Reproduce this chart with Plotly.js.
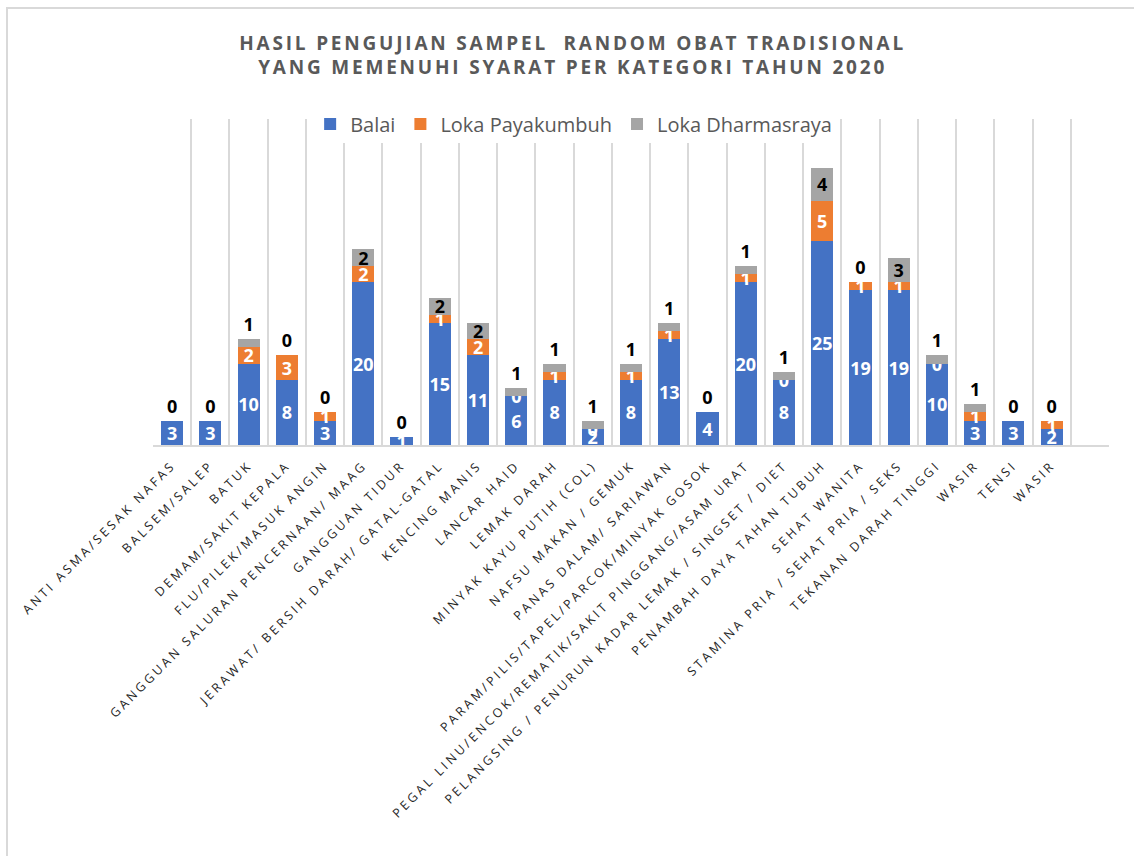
<!DOCTYPE html>
<html>
<head>
<meta charset="utf-8">
<script src="https://cdn.plot.ly/plotly-3.0.1.min.js"></script>
<style>
  html, body { margin: 0; padding: 0; background: #fff; }
  #wrap { position: relative; width: 1134px; height: 856px; overflow: hidden; }
  #chart { width: 1134px; height: 856px; }
  #frame { position: absolute; left: 6px; top: 7px; width: 1160px; height: 900px; z-index: 10;
           border: 2px solid #D9D9D9; box-sizing: border-box; pointer-events: none; }
  .gtitle { letter-spacing: 2.8px; }
  .xtick text { letter-spacing: 3px; }
</style>
</head>
<body>
<div id="wrap">
  <div id="chart"></div>
  <div id="frame"></div>
</div>
<script>
const chartTitle = "HASIL PENGUJIAN SAMPEL  RANDOM OBAT TRADISIONAL<br>YANG MEMENUHI SYARAT PER KATEGORI TAHUN 2020";

const categories = [
  "ANTI ASMA/SESAK NAFAS",
  "BALSEM/SALEP",
  "BATUK",
  "DEMAM/SAKIT KEPALA",
  "FLU/PILEK/MASUK ANGIN",
  "GANGGUAN SALURAN PENCERNAAN/ MAAG",
  "GANGGUAN TIDUR",
  "JERAWAT/ BERSIH DARAH/ GATAL-GATAL",
  "KENCING MANIS",
  "LANCAR HAID",
  "LEMAK DARAH",
  "MINYAK KAYU PUTIH (COL)",
  "NAFSU MAKAN / GEMUK",
  "PANAS DALAM/ SARIAWAN",
  "PARAM/PILIS/TAPEL/PARCOK/MINYAK GOSOK",
  "PEGAL LINU/ENCOK/REMATIK/SAKIT PINGGANG/ASAM URAT",
  "PELANGSING / PENURUN KADAR LEMAK / SINGSET / DIET",
  "PENAMBAH DAYA TAHAN TUBUH",
  "SEHAT WANITA",
  "STAMINA PRIA / SEHAT PRIA / SEKS",
  "TEKANAN DARAH TINGGI",
  "WASIR",
  "TENSI",
  "WASIR"
];

const seriesNames = ["Balai", "Loka Payakumbuh", "Loka Dharmasraya"];
const balai           = [3, 3, 10, 8, 3, 20, 1, 15, 11, 6, 8, 2, 8, 13, 4, 20, 8, 25, 19, 19, 10, 3, 3, 2];
const lokaPayakumbuh  = [0, 0, 2, 3, 1, 2, 0, 1, 2, 0, 1, 0, 1, 1, 0, 1, 0, 5, 1, 1, 0, 1, 0, 1];
const lokaDharmasraya = [0, 0, 1, 0, 0, 2, 0, 2, 2, 1, 1, 1, 1, 1, 0, 1, 1, 4, 0, 3, 1, 1, 0, 0];

const colors = ["#4472C4", "#ED7D31", "#A5A5A5"];
const xIdx = categories.map((c, i) => i);
const nSlots = categories.length + 1;
const gridVals = Array.from({length: nSlots + 1}, (_, i) => i - 0.5);
const FONT = "Open Sans, Noto Sans, sans-serif";

const traces = [
  {
    type: "bar", name: seriesNames[0], x: xIdx, y: balai,
    marker: {color: colors[0]},
    text: balai.map(String), textposition: "inside", insidetextanchor: "middle",
    constraintext: "none", textangle: 0,
    textfont: {family: FONT, size: 18, color: "#FFFFFF", weight: 700},
    hoverinfo: "y+name"
  },
  {
    type: "bar", name: seriesNames[1], x: xIdx, y: lokaPayakumbuh,
    marker: {color: colors[1]},
    text: lokaPayakumbuh.map(String),
    textposition: lokaPayakumbuh.map(v => v === 0 ? "outside" : "inside"),
    insidetextanchor: "middle", constraintext: "none", cliponaxis: false, textangle: 0,
    textfont: {family: FONT, size: 18, color: "#FFFFFF", weight: 700},
    outsidetextfont: {family: FONT, size: 18, color: "#FFFFFF", weight: 700},
    hoverinfo: "y+name"
  },
  {
    type: "bar", name: seriesNames[2], x: xIdx, y: lokaDharmasraya,
    marker: {color: colors[2]},
    text: lokaDharmasraya.map(String),
    textposition: lokaDharmasraya.map(v => v >= 2 ? "inside" : "outside"),
    insidetextanchor: "middle", constraintext: "none", cliponaxis: false, textangle: 0,
    textfont: {family: FONT, size: 18, color: "#000000", weight: 700},
    outsidetextfont: {family: FONT, size: 18, color: "#000000", weight: 700},
    hoverinfo: "y+name"
  }
];

// invisible helper trace on xaxis2 for category separator gridlines
traces.push({
  type: "scatter", x: [gridVals[0]], y: [0], xaxis: "x2", yaxis: "y",
  mode: "markers", marker: {opacity: 0}, showlegend: false, hoverinfo: "skip"
});

const layout = {
  width: 1134, height: 856,
  paper_bgcolor: "#FFFFFF", plot_bgcolor: "rgba(0,0,0,0)",
  margin: {l: 153, r: 25, t: 119, b: 411},
  barmode: "stack", bargap: 0.42,
  title: {
    text: chartTitle,
    font: {family: FONT, size: 19, color: "#595959", weight: 700},
    x: 0.505, xanchor: "center", xref: "container",
    y: 0.942, yanchor: "top", yref: "container"
  },
  showlegend: true,
  legend: {
    orientation: "h", x: 0.44, xanchor: "center", y: 0.985, yanchor: "middle",
    bgcolor: "#FFFFFF", traceorder: "normal",
    font: {family: FONT, size: 20, color: "#595959"},
    itemwidth: 30
  },
  xaxis: {
    range: [gridVals[0], gridVals[gridVals.length - 1]],
    tickmode: "array", tickvals: xIdx, ticktext: categories,
    tickangle: -45, ticks: "", ticklabelstandoff: 6,
    tickfont: {family: FONT, size: 12.5, color: "#262626"},
    showgrid: false, zeroline: false,
    showline: true, linecolor: "#D9D9D9", linewidth: 2,
    fixedrange: true
  },
  xaxis2: {
    overlaying: "x", side: "bottom",
    range: [gridVals[0], gridVals[gridVals.length - 1]],
    tickmode: "array", tickvals: gridVals, ticks: "",
    showticklabels: false, showgrid: true, gridcolor: "#D9D9D9", gridwidth: 2,
    zeroline: false, showline: false, layer: "below traces"
  },
  yaxis: {
    range: [0, 40], showgrid: false, zeroline: false,
    showticklabels: false, ticks: "", showline: false, fixedrange: true
  }
};

Plotly.newPlot("chart", traces, layout, {displayModeBar: false, staticPlot: true});
</script>
</body>
</html>
